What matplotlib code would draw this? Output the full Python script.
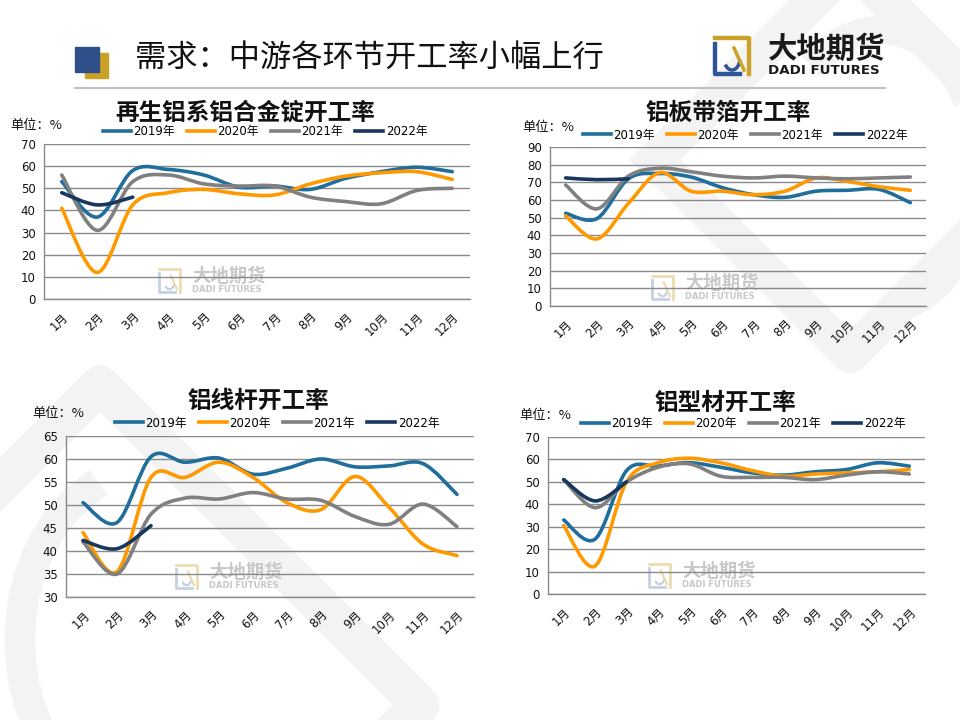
import numpy as np
import matplotlib
matplotlib.use('Agg')
import matplotlib.pyplot as plt
from matplotlib.path import Path
from matplotlib.patches import PathPatch, Rectangle
from matplotlib.lines import Line2D

plt.rcParams['font.family'] = ['DejaVu Sans', 'Noto Sans CJK SC']
CJK = ['Noto Sans CJK SC', 'DejaVu Sans']

# ---- data ----
months = ['1月', '2月', '3月', '4月', '5月', '6月', '7月', '8月', '9月', '10月', '11月', '12月']
years = ['2019年', '2020年', '2021年', '2022年']
colors = ['#1f6e9c', '#ff9900', '#808080', '#17375e']

# 再生铝系铝合金锭开工率
alloy_2019 = [53, 37, 58, 58.5, 56, 50.5, 51, 49.5, 54.5, 57.5, 59.5, 57.5]
alloy_2020 = [41, 12, 42.5, 48, 49.5, 47.5, 47, 52, 55.5, 57, 57.5, 54]
alloy_2021 = [56, 31, 53, 56, 52, 51, 51, 46, 44, 43, 49, 50]
alloy_2022 = [48, 42.5, 46]

# 铝板带箔开工率
sheet_2019 = [52.5, 49.5, 72, 75, 73, 67, 63, 61.5, 65, 65.5, 66, 58.5]
sheet_2020 = [51, 38, 58, 75.5, 65, 65, 63, 65, 72.5, 70.5, 67.5, 65.5]
sheet_2021 = [68.5, 55, 73.5, 78, 76, 73.5, 72.5, 73.5, 72.5, 72, 72.5, 73]
sheet_2022 = [72.5, 71.5, 72]

# 铝线杆开工率
rod_2019 = [50.5, 46.2, 60.5, 59.3, 60.2, 56.7, 58, 60, 58.3, 58.5, 59, 52.3]
rod_2020 = [44, 35.5, 56, 56, 59.3, 56, 50.5, 49, 56.2, 49.5, 41.5, 39]
rod_2021 = [42, 35, 48, 51.5, 51.3, 52.7, 51.3, 51, 47.5, 45.8, 50.2, 45.3]
rod_2022 = [42.3, 40.5, 45.5]

# 铝型材开工率
profile_2019 = [33, 24.5, 55, 57, 58.5, 56.5, 54, 53, 54.5, 55.5, 58.5, 57]
profile_2020 = [30.5, 12.5, 50, 58.5, 60.5, 58.5, 55, 52.5, 53.5, 54, 54.5, 55.5]
profile_2021 = [51, 38.5, 50, 56.5, 58, 52.5, 52, 52, 51, 53, 54.5, 53.5]
profile_2022 = [51, 41.5, 50]

charts = [
    dict(title='再生铝系铝合金锭开工率', series=[alloy_2019, alloy_2020, alloy_2021, alloy_2022],
         ylim=(0, 70), step=10, box=(44, 144, 470, 299), title_xy=(245, 113),
         unit_xy=(10, 125), legend_xy=(265, 132), logo_xy=(157, 268)),
    dict(title='铝板带箔开工率', series=[sheet_2019, sheet_2020, sheet_2021, sheet_2022],
         ylim=(0, 90), step=10, box=(550, 147, 926, 306), title_xy=(728, 113),
         unit_xy=(522, 127), legend_xy=(745, 135), logo_xy=(650, 275)),
    dict(title='铝线杆开工率', series=[rod_2019, rod_2020, rod_2021, rod_2022],
         ylim=(30, 65), step=5, box=(66, 436, 474, 597), title_xy=(258, 401),
         unit_xy=(32, 414), legend_xy=(277, 423), logo_xy=(174, 564)),
    dict(title='铝型材开工率', series=[profile_2019, profile_2020, profile_2021, profile_2022],
         ylim=(0, 70), step=10, box=(548, 437, 925, 594), title_xy=(725, 403),
         unit_xy=(519, 416), legend_xy=(743, 424), logo_xy=(647, 563)),
]

W, H = 960, 720


def smooth_path(values):
    # Excel style smoothed line: cubic bezier through every point
    pts = np.column_stack([np.arange(1, len(values) + 1), values]).astype(float)
    verts = [pts[0]]
    codes = [Path.MOVETO]
    n = len(pts)
    for i in range(n - 1):
        p0 = pts[i - 1] if i > 0 else pts[i]
        p1, p2 = pts[i], pts[i + 1]
        p3 = pts[i + 2] if i + 2 < n else pts[i + 1]
        verts += [p1 + (p2 - p0) / 6, p2 - (p3 - p1) / 6, p2]
        codes += [Path.CURVE4] * 3
    return Path(verts, codes)


def draw_logo(ax, x0, y0, s, faded=False):
    blue = '#2f5597' if not faded else '#c5d0e3'
    gold = '#c9a227' if not faded else '#ecdcb0'
    txt = '#1a1a1a' if not faded else '#c8c8c8'
    lw = s * 0.11 * 0.72
    ax.plot([x0 + 0.08 * s, x0 + 0.92 * s, x0 + 0.92 * s], [y0 + 0.05 * s, y0 + 0.05 * s, y0 + 0.95 * s],
            color=gold, lw=lw, solid_joinstyle='round')
    ax.plot([x0 + 0.08 * s, x0 + 0.08 * s, x0 + 0.7 * s], [y0 + 0.2 * s, y0 + 0.95 * s, y0 + 0.95 * s],
            color=blue, lw=lw, solid_joinstyle='round')
    t = np.linspace(0.3, 2.4, 30)
    ax.plot(x0 + 0.5 * s + 0.2 * s * np.cos(t), y0 + 0.55 * s + 0.3 * s * np.sin(t), color=blue, lw=lw * 0.8)
    ax.plot([x0 + 0.55 * s, x0 + 0.8 * s], [y0 + 0.3 * s, y0 + 0.85 * s], color=gold, lw=lw * 0.8)
    ax.text(x0 + 1.4 * s, y0 + 0.33 * s, '大地期货', fontsize=0.53 * s, fontweight='bold',
            color=txt, va='center', ha='left', family=CJK)
    ax.text(x0 + 1.4 * s, y0 + 0.86 * s, 'DADI FUTURES', fontsize=0.24 * s, fontweight='bold',
            color=txt, va='center', ha='left')


fig = plt.figure(figsize=(9.6, 7.2), dpi=100)
fig.patch.set_facecolor('white')

bg = fig.add_axes([0, 0, 1, 1], zorder=0)
bg.set_xlim(0, W)
bg.set_ylim(H, 0)
bg.axis('off')

# faint background watermark shapes
wm = '#f3f3f3'
bg.plot([655, 850, 1045, 850, 655], [160, -35, 160, 355, 160], color=wm, lw=26, solid_joinstyle='round', zorder=0)
t = np.linspace(-2.2, 1.2, 60)
bg.plot(880 + 100 * np.cos(t), 170 + 140 * np.sin(t), color=wm, lw=20, zorder=0)
bg.plot([-220, 100, 420, 100, -220], [705, 385, 705, 1025, 705], color=wm, lw=28, solid_joinstyle='round', zorder=0)
t = np.linspace(1.6, 4.2, 60)
bg.plot(150 + 130 * np.cos(t), 640 + 170 * np.sin(t), color=wm, lw=22, zorder=0)

# header
bg.add_patch(Rectangle((85, 53), 23, 25, color='#c9a227', zorder=2))
bg.add_patch(Rectangle((75, 47), 24, 25, color='#2f4f8a', zorder=3))
bg.text(135, 58, '需求：中游各环节开工率小幅上行', fontsize=22.5, color='#111111',
        va='center', ha='left', family=CJK)
bg.plot([75, 885], [88, 88], color='#c0c0c0', lw=1.5)
draw_logo(bg, 712, 36, 40)

for c in charts:
    l, t_, r, b = c['box']
    ax = fig.add_axes([l / W, 1 - b / H, (r - l) / W, (b - t_) / H], zorder=2)
    ax.set_facecolor('none')
    draw_logo(bg, c['logo_xy'][0], c['logo_xy'][1], 25, faded=True)

    for vals, col in zip(c['series'], colors):
        ax.add_patch(PathPatch(smooth_path(vals), facecolor='none', edgecolor=col,
                               lw=2.6, capstyle='round', joinstyle='round', zorder=3))

    lo, hi = c['ylim']
    ax.set_xlim(0.5, 12.5)
    ax.set_ylim(lo, hi)
    ax.set_yticks(np.arange(lo, hi + 0.1, c['step']))
    ax.yaxis.grid(True, color='#8a8a8a', lw=1.0)
    ax.set_axisbelow(True)
    ax.set_xticks(range(1, 13))
    ax.set_xticklabels(months, rotation=45, ha='right', va='top', rotation_mode='anchor')
    ax.tick_params(axis='both', length=0, labelsize=8.5, colors='#111111')
    ax.tick_params(axis='y', pad=6)
    ax.tick_params(axis='x', pad=8)
    for side in ['top', 'right']:
        ax.spines[side].set_visible(False)
    for side in ['left', 'bottom']:
        ax.spines[side].set_color('#8a8a8a')
        ax.spines[side].set_linewidth(1.0)

    handles = [Line2D([], [], color=col, lw=2.6) for col in colors]
    ax.legend(handles, years, loc='center', ncol=4, frameon=False, fontsize=8.5,
              handlelength=2.4, handletextpad=0.2, columnspacing=1.0,
              bbox_to_anchor=(c['legend_xy'][0] / W, 1 - c['legend_xy'][1] / H),
              bbox_transform=fig.transFigure)

    bg.text(c['title_xy'][0], c['title_xy'][1], c['title'], fontsize=17, fontweight='bold',
            color='#111111', ha='center', va='center', family=CJK)
    bg.text(c['unit_xy'][0], c['unit_xy'][1], '单位：%', fontsize=9.5, color='#111111',
            ha='left', va='center', family=CJK)

fig.savefig('out.png', dpi=100, facecolor='white')
